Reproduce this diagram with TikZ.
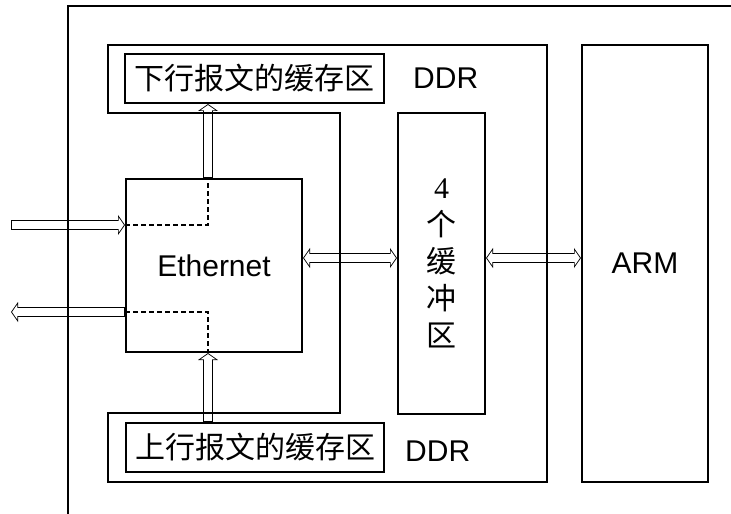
\documentclass[tikz,border=0pt]{standalone}
\usepackage{fontspec}
\setmainfont{Liberation Sans}
\newfontfamily\cjk{Noto Sans CJK SC}
\newfontfamily\digitfont{Liberation Serif}
\usetikzlibrary{arrows.meta,positioning,backgrounds}
\tikzset{
  outtip/.tip={Triangle[length=7bp,width=20bp,line width=0pt]},
  intip/.tip={Triangle[length=5.2bp,width=15bp,line width=0pt]}
}

\begin{document}
\begin{tikzpicture}[x=1bp, y=-1bp,
    box/.style={draw, line width=2bp, inner sep=0pt},
    txt/.style={font=\fontsize{30bp}{36bp}\selectfont, inner sep=0pt},
    cjktxt/.style={font=\cjk\fontsize{30bp}{37bp}\selectfont, inner sep=0pt},
    hollow/.style={line width=10.5bp, -{outtip},
      postaction={draw=white, line width=8.7bp, shorten <=0.9bp, shorten >=1.1bp, -{intip}},
      postaction={draw=white, line width=8.7bp, shorten <=0.9bp, shorten >=5.5bp, arrows=-}},
    hollowboth/.style={line width=10.5bp, {outtip}-{outtip},
      postaction={draw=white, line width=8.7bp, shorten <=1.1bp, shorten >=1.1bp, {intip}-{intip}},
      postaction={draw=white, line width=8.7bp, shorten <=5.5bp, shorten >=5.5bp, arrows=-}},
    datapath/.style={line width=2bp, dash pattern=on 5bp off 3bp}]
    \useasboundingbox (0,0) rectangle (731,514);
    % board frame and DDR region
    \draw[line width=2bp] (68,514) -- (68,6) -- (731,6);
    \draw[line width=2bp] (108,45) -- (547,45) -- (547,482) -- (108,482) -- (108,413) -- (340,413) -- (340,113) -- (108,113) -- cycle;
    \node[box, cjktxt, minimum width=259bp, minimum height=49bp] (dnbuf) at (254.5,78.5) {下行报文的缓存区};
    \node[txt, right=28bp of dnbuf] (ddrtop) {DDR};
    \node[box, cjktxt, minimum width=258bp, minimum height=49bp] (upbuf) at (255,447.5) {上行报文的缓存区};
    \node[txt, right=20bp of upbuf, yshift=-3.5bp] (ddrbot) {DDR};
    \node[box, txt, minimum width=176bp, minimum height=173bp] (eth) at (214,265.5) {Ethernet};
    \node[box, cjktxt, align=center, minimum width=87bp, minimum height=301bp] (fourbuf) at (441.5,263.5) {{\digitfont 4}\\个\\缓\\冲\\区};
    \node[box, txt, minimum width=126bp, minimum height=437bp] (arm) at (645,263.5) {ARM};
    \coordinate (inL) at (11,225);
    \coordinate (outL) at (11,312);
    \coordinate (tap) at (208,265);
    \coordinate (bus) at (0,258);
    % paths inside Ethernet
    \draw[datapath] (inL -| eth.west) -| (eth.north -| tap);
    \draw[datapath] (outL -| eth.west) -| (eth.south -| tap);
    \begin{scope}[on background layer]
      \draw[hollow] (inL) -- (inL -| eth.west);
      \draw[hollow] (outL -| eth.west) -- (outL);
      \draw[hollow] (eth.north -| tap) -- (dnbuf.south -| tap);
      \draw[hollow] (upbuf.north -| tap) -- (eth.south -| tap);
      \draw[hollowboth] (eth.east |- bus) -- (fourbuf.west |- bus);
      \draw[hollowboth] (fourbuf.east |- bus) -- (arm.west |- bus);
    \end{scope}
  \end{tikzpicture}
\end{document}
